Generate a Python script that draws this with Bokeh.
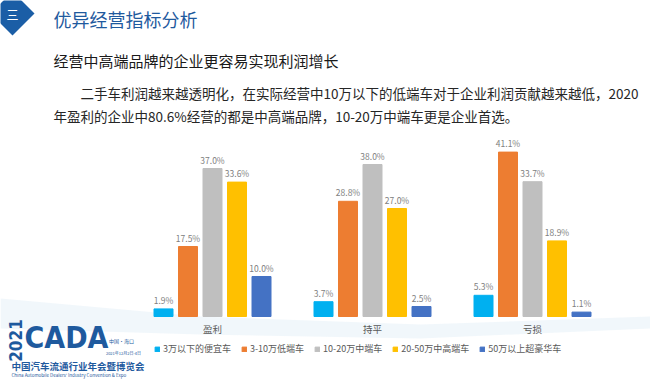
import math
from bokeh.plotting import figure
from bokeh.models import (ColumnDataSource, Label, Legend, LegendItem,
                          PolyAnnotation, Range1d)
from bokeh.transform import dodge
from bokeh.embed import file_html
from bokeh.resources import INLINE
from bokeh.core.properties import value

# ---- data ----
categories = ["盈利", "持平", "亏损"]
series_names = ["3万以下的便宜车", "3-10万低端车", "10-20万中端车", "20-50万中高端车", "50万以上超豪华车"]
cheap = [1.9, 3.7, 5.3]
low = [17.5, 28.8, 41.1]
mid = [37.0, 38.0, 33.7]
midhigh = [33.6, 27.0, 18.9]
lux = [10.0, 2.5, 1.1]
series_values = [cheap, low, mid, midhigh, lux]

title_text = "优异经营指标分析"
subtitle_text = "经营中高端品牌的企业更容易实现利润增长"
para_line1 = "二手车利润越来越透明化，在实际经营中10万以下的低端车对于企业利润贡献越来越低，2020"
para_line2 = "年盈利的企业中80.6%经营的都是中高端品牌，10-20万中端车更是企业首选。"

# ---- styles ----
colors = ["#00B0F0", "#ED7D31", "#BFBFBF", "#FFC000", "#4472C4"]
FONT = "Noto Sans CJK SC"
BLUE = "#1F5A9E"
LOGO_FONT = "DejaVu Sans Condensed"

W, H = 650, 379
# layout geometry (pixels): first category centre, px per category, baseline, px per percent
CX0, PXC, BASE, PXP = 212, 160, 316, 4.0


def dx(X):
    return (X - CX0) / PXC


def dy(Y):
    return (BASE - Y) / PXP


p = figure(width=W, height=H,
           x_range=Range1d(dx(0), dx(W)), y_range=Range1d(dy(H), dy(0)),
           output_backend="svg", toolbar_location=None,
           min_border=0, min_border_left=0, min_border_right=0,
           min_border_top=0, min_border_bottom=0)
p.outline_line_color = None
p.background_fill_color = "white"
p.border_fill_color = "white"
p.grid.visible = False
p.axis.visible = False

# faint background swoosh
p.add_layout(PolyAnnotation(xs=[dx(0), dx(200), dx(420), dx(650), dx(650), dx(420), dx(200), dx(0)],
                            ys=[dy(298), dy(316), dy(324), dy(316), dy(328), dy(338), dy(334), dy(328)],
                            fill_color="#E6F0F8", fill_alpha=0.55, line_color=None, level="underlay"))

cat_idx = list(range(len(categories)))
bar_w = 19 / PXC
step = 24.5 / PXC
items = []
for i, (name, vals) in enumerate(zip(series_names, series_values)):
    src = ColumnDataSource(dict(x=cat_idx, y=vals, lbl=[f"{v:.1f}%" for v in vals]))
    off = (i - 2) * step
    r = p.vbar(x=dodge("x", off), top="y", width=bar_w, color=colors[i], source=src)
    p.text(x=dodge("x", off), y="y", text="lbl", source=src,
           text_align="center", text_baseline="bottom", y_offset=-3,
           text_font=value(FONT), text_font_size="8.5px", text_color="#808080")
    items.append(LegendItem(label=name, renderers=[r]))

# category labels under each group
cat_src = ColumnDataSource(dict(x=cat_idx, y=[0] * len(categories), t=categories))
p.text(x="x", y="y", text="t", source=cat_src, text_align="center", text_baseline="top",
       y_offset=5, text_font=value(FONT), text_font_size="9.5px", text_color="#595959")

legend = Legend(items=items, orientation="horizontal", location=(154, H - 355),
                border_line_color=None, background_fill_alpha=0,
                glyph_width=6, glyph_height=6, label_text_font=FONT,
                label_text_font_size="9px", label_text_color="#595959",
                spacing=10, label_standoff=3, padding=2, margin=0)
p.add_layout(legend, "center")


def lab(text, X, Y, size, color, bold=False, angle=0.0, font=FONT, align="left"):
    p.add_layout(Label(x=dx(X), y=dy(Y), text=text, text_font=font, text_font_size=f"{size}px",
                       text_color=color, text_font_style="bold" if bold else "normal",
                       text_baseline="middle", text_align=align, angle=angle))


# diamond icon
p.add_layout(PolyAnnotation(xs=[dx(-10), dx(12), dx(34), dx(12)],
                            ys=[dy(13), dy(-9), dy(13), dy(35)],
                            fill_color="#1B5EA6", fill_alpha=1, line_color=None))
lab("三", 12, 14, 12, "white", align="center")

lab(title_text, 53, 18, 18, BLUE)
lab(subtitle_text, 53, 60, 15, "#1A1A1A")
lab(para_line1, 80, 92, 13.5, "#262626")
lab(para_line2, 53, 115, 13.5, "#262626")

# logo
lab("2021", 15, 340, 17, BLUE, bold=True, angle=math.pi / 2, font=LOGO_FONT, align="center")
lab("CADA", 24, 337, 30, BLUE, bold=True, font=LOGO_FONT)
lab("中国·海口", 121, 340, 5, BLUE, align="center")
lab("2021年12月2日-4日", 123, 352, 4, BLUE, align="center")
lab("中国汽车流通行业年会暨博览会", 11, 365, 9.5, BLUE, bold=True)
lab("China Automobile Dealers' Industry Convention & Expo", 11, 374, 4.5, BLUE)

open("out.html", "w").write(file_html(p, INLINE))
